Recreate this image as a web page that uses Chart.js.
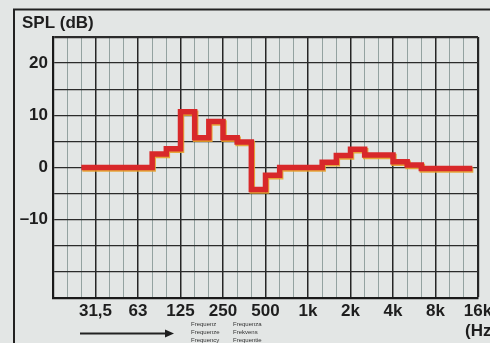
<!DOCTYPE html>
<html>
<head>
<meta charset="utf-8">
<script src="https://cdn.jsdelivr.net/npm/chart.js@4"></script>
<style>
html, body { margin: 0; padding: 0; background: #e3e6e5; }
#wrap { width: 490px; height: 343px; }
</style>
</head>
<body>
<div id="wrap"><canvas id="splChart" width="490" height="343"></canvas></div>
<script>
// x = third-octave band index (0 = 16 Hz, 3 = 31,5 Hz ... 30 = 16 kHz), start of each step
const bandStart = [2, 3, 4, 5, 6, 7, 8, 9, 10, 11, 12, 13, 14, 15, 16, 17, 18, 19, 20, 21, 22, 23, 24, 25, 26, 27, 28, 29, 29.6];
const splLevel = [0, 0, 0, 0, 0, 2.6, 3.6, 10.7, 5.7, 8.8, 5.7, 4.9, -4.2, -1.5, 0, 0, 0, 1.0, 2.3, 3.5, 2.4, 2.4, 1.1, 0.5, -0.2, -0.2, -0.2, -0.2, -0.2];
const octaveLabels = ['', '31,5', '63', '125', '250', '500', '1k', '2k', '4k', '8k', '16k'];
const dbLabels = { '20': '20', '10': '10', '0': '0', '-10': '–10' };
const langLeft = ['Frequenz', 'Frequenze', 'Frequency'];
const langRight = ['Frequenza', 'Frekvens', 'Frequentie'];

const FONT = '"Liberation Sans", Arial, sans-serif';
const INK = '#1e1e1e';

const paperPlugin = {
    id: 'paper',
    beforeDraw(chart) {
        const ctx = chart.ctx;
        ctx.save();
        ctx.fillStyle = '#e3e6e5';
        ctx.fillRect(0, 0, chart.width, chart.height);
        ctx.restore();
    },
    afterDraw(chart) {
        const ctx = chart.ctx;
        ctx.save();
        // outer frame
        ctx.strokeStyle = '#222';
        ctx.lineWidth = 2;
        ctx.beginPath();
        ctx.moveTo(14, 343);
        ctx.lineTo(14, 9.5);
        ctx.lineTo(490, 9.5);
        ctx.stroke();

        ctx.fillStyle = INK;
        ctx.textBaseline = 'middle';
        ctx.font = 'bold 17px ' + FONT;
        ctx.fillText('SPL (dB)', 22, 23);
        ctx.fillText('(Hz)', 465, 331);

        // arrow
        ctx.lineWidth = 2.2;
        ctx.beginPath();
        ctx.moveTo(80, 333.5);
        ctx.lineTo(167, 333.5);
        ctx.stroke();
        ctx.beginPath();
        ctx.moveTo(174, 333.5);
        ctx.lineTo(165, 329.5);
        ctx.lineTo(165, 337.5);
        ctx.closePath();
        ctx.fill();

        ctx.font = '6px ' + FONT;
        ctx.fillStyle = '#333';
        langLeft.forEach((t, i) => ctx.fillText(t, 191, 324 + i * 8));
        langRight.forEach((t, i) => ctx.fillText(t, 233, 324 + i * 8));
        ctx.restore();
    }
};

const shadowPlugin = {
    id: 'inkShadow',
    beforeDatasetDraw(chart) {
        const ctx = chart.ctx;
        ctx.save();
        ctx.shadowColor = 'rgba(230, 160, 40, 0.9)';
        ctx.shadowOffsetX = 1;
        ctx.shadowOffsetY = 1.5;
        ctx.shadowBlur = 0;
    },
    afterDatasetDraw(chart) {
        chart.ctx.restore();
    }
};

new Chart(document.getElementById('splChart'), {
    type: 'line',
    data: {
        datasets: [{
            data: bandStart.map((x, i) => ({ x: x, y: splLevel[i] })),
            borderColor: '#d8282a',
            borderWidth: 5.5,
            pointRadius: 0,
            stepped: 'before',
            fill: false,
            borderJoinStyle: 'miter',
            borderCapStyle: 'butt'
        }]
    },
    options: {
        responsive: false,
        animation: false,
        layout: {
            autoPadding: false,
            padding: { top: 37, right: 12, left: 0, bottom: 0 }
        },
        plugins: {
            legend: { display: false },
            tooltip: { enabled: false }
        },
        scales: {
            x: {
                type: 'linear',
                min: 0,
                max: 30,
                afterFit: s => {
                    s.height = 45;
                    s.paddingLeft = 0;
                    s.paddingRight = 0;
                },
                ticks: {
                    stepSize: 1,
                    autoSkip: false,
                    maxRotation: 0,
                    padding: 3,
                    color: INK,
                    font: { family: FONT, size: 17, weight: 'bold' },
                    callback: v => (v % 3 === 0 ? octaveLabels[v / 3] : '')
                },
                grid: {
                    drawTicks: false,
                    color: c => (c.tick && c.tick.value % 3 === 0 ? '#262626' : '#93a2a0'),
                    lineWidth: c => {
                        if (!c.tick) return 1;
                        if (c.tick.value === 30) return 2.2;
                        return c.tick.value % 3 === 0 ? 1.5 : 1;
                    }
                },
                border: { color: '#1a1a1a', width: 2.2 }
            },
            y: {
                min: -25,
                max: 25,
                afterFit: s => {
                    s.width = 53;
                    s.paddingTop = 0;
                    s.paddingBottom = 0;
                },
                ticks: {
                    stepSize: 5,
                    padding: 5,
                    color: INK,
                    font: { family: FONT, size: 17, weight: 'bold' },
                    callback: v => (dbLabels[v] !== undefined ? dbLabels[v] : '')
                },
                grid: {
                    drawTicks: false,
                    color: '#2b2b2b',
                    lineWidth: c => (c.tick && c.tick.value === 25 ? 2.2 : 1.3)
                },
                border: { color: '#1a1a1a', width: 2.2 }
            }
        }
    },
    plugins: [paperPlugin, shadowPlugin]
});
</script>
</body>
</html>
